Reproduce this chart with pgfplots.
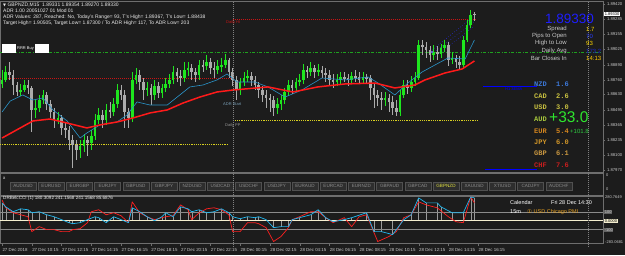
\documentclass[border=0pt]{standalone}
\usepackage{pgfplots}
\pgfplotsset{compat=1.18}
\usepackage{pgfplotstable}
\usepackage{fontspec}
\setmainfont{Liberation Sans}
\newfontfamily\monofont{Liberation Mono}
\newfontfamily\symfont{DejaVu Sans}
\newcommand\fs[1]{\fontsize{#1}{#1}\selectfont}
\definecolor{bg}{HTML}{1C1C1C}
\definecolor{framec}{HTML}{6E6E6E}
\definecolor{tickc}{HTML}{C8C8C8}
\definecolor{bullc}{HTML}{1EE61E}
\definecolor{bearc}{HTML}{ABABAB}
\definecolor{mared}{HTML}{FF1A1A}
\definecolor{mablue}{HTML}{2A93C8}
\definecolor{ddgreen}{HTML}{1FA01F}
\definecolor{ydot}{HTML}{D8D020}
\definecolor{rdot}{HTML}{C81414}
\definecolor{chanblue}{HTML}{2A2AD0}
\definecolor{cciblue}{HTML}{22B8F0}
\definecolor{ccired}{HTML}{FF2020}
\definecolor{histc}{HTML}{9A9A9A}
\definecolor{zeroc}{HTML}{F5EFD0}
\definecolor{btnfill}{HTML}{2E2E2E}
\definecolor{btnline}{HTML}{505050}
\definecolor{btntext}{HTML}{8C8C8C}

\pgfplotstableread{
i o h l c
0 1.88722 1.88844 1.88687 1.88757
1 1.88757 1.88879 1.88739 1.88826
2 1.88826 1.88914 1.88757 1.88800
3 1.88800 1.88844 1.88626 1.88713
4 1.88713 1.88739 1.88617 1.88652
5 1.88652 1.88722 1.88617 1.88669
6 1.88669 1.88757 1.88652 1.88713
7 1.88713 1.88757 1.88634 1.88687
8 1.88687 1.88704 1.88303 1.88495
9 1.88495 1.88582 1.88425 1.88512
10 1.88512 1.88626 1.88477 1.88582
11 1.88582 1.88669 1.88547 1.88626
12 1.88626 1.88652 1.88495 1.88547
13 1.88547 1.88582 1.88425 1.88477
14 1.88477 1.88512 1.88338 1.88407
15 1.88407 1.88477 1.88372 1.88425
16 1.88425 1.88451 1.88276 1.88338
17 1.88338 1.88390 1.88250 1.88320
18 1.88320 1.88355 1.88146 1.88233
19 1.88233 1.88276 1.87988 1.88189
20 1.88189 1.88233 1.88058 1.88146
21 1.88146 1.88233 1.88076 1.88180
22 1.88180 1.88285 1.88128 1.88233
23 1.88233 1.88268 1.88093 1.88207
24 1.88207 1.88320 1.88146 1.88268
25 1.88268 1.88460 1.88233 1.88407
26 1.88407 1.88512 1.88372 1.88451
27 1.88451 1.88495 1.88338 1.88407
28 1.88407 1.88547 1.88364 1.88495
29 1.88495 1.88565 1.88425 1.88477
30 1.88477 1.88600 1.88442 1.88547
31 1.88547 1.88722 1.88512 1.88669
32 1.88669 1.88713 1.88582 1.88626
33 1.88626 1.88669 1.88338 1.88477
34 1.88477 1.88512 1.88338 1.88425
35 1.88425 1.88826 1.88390 1.88757
36 1.88757 1.88861 1.88722 1.88800
37 1.88800 1.88844 1.88669 1.88739
38 1.88739 1.88774 1.88582 1.88669
39 1.88669 1.88739 1.88617 1.88687
40 1.88687 1.88722 1.88538 1.88626
41 1.88626 1.88757 1.88582 1.88704
42 1.88704 1.88739 1.88600 1.88643
43 1.88643 1.88722 1.88600 1.88687
44 1.88687 1.88774 1.88652 1.88722
45 1.88722 1.88809 1.88687 1.88757
46 1.88757 1.88879 1.88722 1.88826
47 1.88826 1.88861 1.88739 1.88792
48 1.88792 1.88844 1.88704 1.88774
49 1.88774 1.88914 1.88739 1.88844
50 1.88844 1.88914 1.88792 1.88861
51 1.88861 1.88896 1.88757 1.88826
52 1.88826 1.88861 1.88739 1.88800
53 1.88800 1.88931 1.88757 1.88888
54 1.88888 1.88931 1.88826 1.88879
55 1.88879 1.88975 1.88844 1.88914
56 1.88914 1.88949 1.88809 1.88861
57 1.88861 1.88914 1.88774 1.88844
58 1.88844 1.88931 1.88809 1.88879
59 1.88879 1.88949 1.88826 1.88888
60 1.88888 1.88984 1.88861 1.88931
61 1.88931 1.88949 1.88774 1.88826
62 1.88826 1.88861 1.88704 1.88757
63 1.88757 1.88792 1.88582 1.88669
64 1.88669 1.88774 1.88626 1.88739
65 1.88739 1.88826 1.88704 1.88774
66 1.88774 1.88844 1.88739 1.88792
67 1.88792 1.88826 1.88704 1.88757
68 1.88757 1.88792 1.88669 1.88713
69 1.88713 1.88739 1.88600 1.88669
70 1.88669 1.88704 1.88565 1.88626
71 1.88626 1.88669 1.88512 1.88600
72 1.88600 1.88634 1.88477 1.88582
73 1.88582 1.88617 1.88442 1.88512
74 1.88512 1.88600 1.88460 1.88547
75 1.88547 1.88626 1.88495 1.88582
76 1.88582 1.88687 1.88547 1.88652
77 1.88652 1.88757 1.88617 1.88713
78 1.88713 1.88757 1.88634 1.88687
79 1.88687 1.88774 1.88652 1.88739
80 1.88739 1.88809 1.88704 1.88757
81 1.88757 1.88896 1.88722 1.88844
82 1.88844 1.88879 1.88774 1.88826
83 1.88826 1.88914 1.88792 1.88861
84 1.88861 1.88888 1.88774 1.88826
85 1.88826 1.88896 1.88792 1.88844
86 1.88844 1.88879 1.88774 1.88818
87 1.88818 1.88861 1.88739 1.88800
88 1.88800 1.88844 1.88704 1.88757
89 1.88757 1.88809 1.88687 1.88739
90 1.88739 1.88809 1.88704 1.88757
91 1.88757 1.88826 1.88722 1.88783
92 1.88783 1.88826 1.88739 1.88774
93 1.88774 1.88809 1.88704 1.88757
94 1.88757 1.88826 1.88722 1.88792
95 1.88792 1.88844 1.88739 1.88783
96 1.88783 1.88826 1.88722 1.88757
97 1.88757 1.88826 1.88722 1.88783
98 1.88783 1.88809 1.88722 1.88774
99 1.88774 1.88800 1.88582 1.88687
100 1.88687 1.88722 1.88512 1.88626
101 1.88626 1.88669 1.88530 1.88600
102 1.88600 1.88652 1.88495 1.88582
103 1.88582 1.88652 1.88530 1.88600
104 1.88600 1.88634 1.88477 1.88565
105 1.88565 1.88617 1.88451 1.88512
106 1.88512 1.88582 1.88442 1.88477
107 1.88477 1.88669 1.88442 1.88626
108 1.88626 1.88757 1.88600 1.88713
109 1.88713 1.88757 1.88634 1.88687
110 1.88687 1.88792 1.88652 1.88739
111 1.88739 1.88826 1.88704 1.88774
112 1.88774 1.89106 1.88757 1.89062
113 1.89062 1.89106 1.88975 1.89045
114 1.89045 1.89088 1.88949 1.89019
115 1.89019 1.89053 1.88914 1.88975
116 1.88975 1.89062 1.88931 1.89001
117 1.89001 1.89053 1.88931 1.88984
118 1.88984 1.89071 1.88949 1.89036
119 1.89036 1.89106 1.89001 1.89062
120 1.89062 1.89088 1.88879 1.88931
121 1.88931 1.89001 1.88896 1.88949
122 1.88949 1.88975 1.88861 1.88914
123 1.88914 1.88966 1.88844 1.88888
124 1.88888 1.89141 1.88861 1.89106
125 1.89106 1.89280 1.89088 1.89237
126 1.89237 1.89368 1.89211 1.89324
127 1.89331 1.89354 1.89270 1.89330
}\candles

\pgfplotstableread{
i v
0 1.88250
8.3 1.88399
12.9 1.88416
17.5 1.88381
22.8 1.88338
26.3 1.88364
30.9 1.88390
35.2 1.88425
39.8 1.88469
44.4 1.88495
48.7 1.88556
53.2 1.88608
57.8 1.88652
62.1 1.88669
71.5 1.88696
78.2 1.88652
84.9 1.88696
92.2 1.88722
100.3 1.88730
105.6 1.88687
111.0 1.88713
113.7 1.88757
119.1 1.88818
123.7 1.88853
127 1.88923
}\mared

\pgfplotstableread{
i v
0 1.88477
2.2 1.88573
5.6 1.88626
8.3 1.88582
11.0 1.88600
13.7 1.88495
17.5 1.88399
21.0 1.88250
22.8 1.88294
26.3 1.88364
30.9 1.88390
33.6 1.88451
36.3 1.88565
39.8 1.88538
44.4 1.88538
47.8 1.88626
50.5 1.88696
54.0 1.88713
57.8 1.88757
60.5 1.88809
63.2 1.88739
68.0 1.88739
71.5 1.88696
76.1 1.88608
80.6 1.88669
86.0 1.88774
92.2 1.88757
98.4 1.88783
101.1 1.88730
105.6 1.88626
109.1 1.88730
112.9 1.88826
116.4 1.88888
119.9 1.88949
124.5 1.88940
127 1.89106
}\mablue

\pgfplotstableread{
i v
0 207
1 161
3 104
5 138
7 127
8 92
10 104
12 69
14 46
16 12
18 -23
19 -35
21 -23
23 12
25 46
26 35
28 -23
30 46
32 12
34 -23
35 150
37 104
39 46
41 0
43 46
44 92
46 46
48 161
50 138
51 104
53 127
55 92
57 104
59 138
61 92
62 46
64 23
66 46
68 35
69 46
71 12
73 -81
75 -69
77 -69
78 12
80 35
83 69
85 127
87 35
89 -12
92 12
94 35
98 92
100 -127
102 -127
105 -161
108 12
110 69
112 265
114 207
117 207
118 161
121 92
124 92
126 276
127 265
}\ccicyan

\pgfplotstableread{
i v
0 241
1 150
3 92
5 69
7 46
8 -127
10 -69
12 -104
14 -104
16 -127
18 -127
19 -104
21 -92
23 -23
24 104
26 127
28 69
30 92
32 58
34 -23
35 219
37 92
39 46
41 12
43 35
44 46
46 58
48 184
50 127
51 12
53 92
55 138
57 150
59 127
61 69
62 -127
64 -127
66 -23
68 -23
69 -35
71 -81
73 -242
75 -184
77 -81
78 12
80 46
83 104
85 104
87 35
89 -23
92 35
94 -69
96 46
98 69
101 -242
104 -184
106 -127
108 35
110 69
112 219
114 184
117 150
120 46
122 -12
124 -23
126 276
127 207
}\ccired

\begin{document}
\begin{tikzpicture}[x=1pt,y=1pt]
\fill[bg] (0,0) rectangle (625,255);

% ---------------- main price panel ----------------
\begin{axis}[at={(0pt,83pt)}, anchor=south west, scale only axis,
  width=603pt, height=171pt,
  xmin=-0.54, xmax=161.56, ymin=1.879534, ymax=1.894463,
  axis line style={draw=framec, line width=0.6pt},
  xtick=\empty,
  ytick={1.89420,1.89285,1.89155,1.89025,1.88890,1.88760,1.88630,1.88495,1.88365,1.88235,1.88100,1.87970},
  yticklabels={1.89420,1.89285,1.89155,1.89025,1.88890,1.88760,1.88630,1.88495,1.88365,1.88235,1.88100,1.87970},
  ytick pos=right, yticklabel pos=right, tick align=outside, major tick length=2pt,
  tick style={draw=framec},
  yticklabel style={font=\fs{4.2}, text=tickc, xshift=-1.5pt},
  ]
% level lines
\addplot[rdot, line width=0.6pt, dash pattern=on 1pt off 1pt] coordinates {(-0.54,1.88774) (62,1.88774)};
\addplot[rdot, line width=0.6pt, dash pattern=on 1pt off 1pt] coordinates {(62,1.89289) (127.5,1.89289)};
\addplot[ydot, line width=0.6pt, dash pattern=on 1.2pt off 1pt] coordinates {(-0.54,1.88198) (60.5,1.88198)};
\addplot[ydot, line width=0.6pt, dash pattern=on 1.2pt off 1pt] coordinates {(62,1.88407) (127.7,1.88407)};
\addplot[ddgreen, line width=0.8pt, dash pattern=on 3pt off 1.5pt on 1pt off 1.5pt] coordinates {(-0.54,1.89001) (160.7,1.89001)};
\addplot[blue, line width=1pt] coordinates {(129.3,1.88704) (143.8,1.88704)};
\addplot[blue, line width=1pt] coordinates {(129.8,1.87971) (143.8,1.87971)};
% channel
\addplot[chanblue, line width=0.6pt, dotted] coordinates {(115.6,1.89019) (126.3,1.89298)};
\addplot[chanblue, line width=0.6pt, dotted] coordinates {(115.6,1.88984) (126.8,1.89263)};
\addplot[chanblue, line width=0.6pt, dotted] coordinates {(116.0,1.88949) (127.0,1.89228)};
% wicks
\addplot[draw=none, mark=none, forget plot,
  restrict expr to domain={\thisrow{c}-\thisrow{o}}{0:1},
  error bars/.cd, y dir=both, y explicit, error mark=none,
  error bar style={draw=bullc, solid, line width=0.55pt}]
  table[x=i, y expr=(\thisrow{h}+\thisrow{l})/2, y error expr=(\thisrow{h}-\thisrow{l})/2] {\candles};
\addplot[draw=none, mark=none, forget plot,
  restrict expr to domain={\thisrow{c}-\thisrow{o}}{-1:0},
  error bars/.cd, y dir=both, y explicit, error mark=none,
  error bar style={draw=bearc, solid, line width=0.55pt}]
  table[x=i, y expr=(\thisrow{h}+\thisrow{l})/2, y error expr=(\thisrow{h}-\thisrow{l})/2] {\candles};
% bodies
\addplot[draw=none, mark=none, forget plot,
  restrict expr to domain={\thisrow{c}-\thisrow{o}}{0:1},
  error bars/.cd, y dir=both, y explicit, error mark=none,
  error bar style={draw=bullc, solid, line width=2.6pt}]
  table[x=i, y expr=(\thisrow{o}+\thisrow{c})/2, y error expr={max(abs(\thisrow{c}-\thisrow{o})/2,0.00003)}] {\candles};
\addplot[draw=none, mark=none, forget plot,
  restrict expr to domain={\thisrow{c}-\thisrow{o}}{-1:0},
  error bars/.cd, y dir=both, y explicit, error mark=none,
  error bar style={draw=bearc, solid, line width=2.6pt}]
  table[x=i, y expr=(\thisrow{o}+\thisrow{c})/2, y error expr={max(abs(\thisrow{c}-\thisrow{o})/2,0.00003)}] {\candles};
% moving averages
\addplot[mablue, line width=0.6pt, line join=round] table[x=i, y=v] {\mablue};
\addplot[mared, line width=1.5pt, line join=round] table[x=i, y=v] {\mared};
\addplot[only marks, mark=*, mark size=1.1pt, fill=white, draw=chanblue] coordinates {(115.6,1.89001)};
\end{axis}

% ---------------- CCI panel ----------------
\begin{axis}[at={(0pt,11.5pt)}, anchor=south west, scale only axis,
  width=603pt, height=47pt,
  xmin=-0.54, xmax=161.56, ymin=-265, ymax=281,
  axis line style={draw=framec, line width=0.6pt},
  ytick=\empty,
  xtick={0,8,...,128},
  xticklabels={27 Dec 2018, 27 Dec 10:15, 27 Dec 12:15, 27 Dec 14:15, 27 Dec 16:15, 27 Dec 18:15, 27 Dec 20:15, 27 Dec 22:15, 28 Dec 00:15, 28 Dec 02:15, 28 Dec 04:15, 28 Dec 06:15, 28 Dec 08:15, 28 Dec 10:15, 28 Dec 12:15, 28 Dec 14:15, 28 Dec 16:15},
  xtick pos=bottom, tick align=outside, major tick length=2pt,
  tick style={draw=framec},
  xticklabel style={font=\fs{4.4}, text=tickc, anchor=north west, xshift=-3pt, yshift=1pt},
  ]
\addplot[histc, line width=0.4pt, ycomb] table[x=i, y=v] {\ccicyan};
\addplot[framec!80, line width=0.5pt] coordinates {(-0.54,100) (161.56,100)};
\addplot[framec!80, line width=0.5pt] coordinates {(-0.54,-100) (161.56,-100)};
\addplot[zeroc, line width=0.8pt] coordinates {(-0.54,0) (161.56,0)};
\addplot[ccired, line width=0.7pt, line join=round] table[x=i, y=v] {\ccired};
\addplot[cciblue, line width=0.7pt, line join=round] table[x=i, y=v] {\ccicyan};
\end{axis}

% ---------------- button panel ----------------
\draw[framec, line width=0.6pt] (0,60) rectangle (603,82);
\node[anchor=west, text=white, font=\fs{4.5}, inner sep=0pt] at (3,77) {x};
\foreach \n [count=\k from 0] in {AUDUSD,EURUSD,EURGBP,EURJPY,GBPUSD,GBPJPY,NZDUSD,USDCAD,USDCHF,USDJPY,EURAUD,EURCAD,EURNZD,GBPAUD,GBPCAD,GBPNZD,XAUUSD,XTIUSD,CADJPY,AUDCHF}{
  \pgfmathsetmacro\bx{10+28.2*\k}
  \draw[fill=btnfill, draw=btnline, line width=0.4pt] (\bx,65) rectangle ++(26,7.5);
  \ifnum\k=15
    \node[text={rgb,255:red,224;green,224;blue,64}, font=\fs{4.6}, inner sep=0pt] at (\bx+13,68.75) {\n};
  \else
    \node[text=btntext, font=\fs{4.6}, inner sep=0pt] at (\bx+13,68.75) {\n};
  \fi
}
\node[anchor=west, text=tickc, font=\fs{4}, inner sep=0pt] at (606,80) {0};
\node[anchor=west, text=tickc, font=\fs{4}, inner sep=0pt] at (606,66) {0};

% vertical separators
\draw[gray, line width=0.5pt, dash pattern=on 1pt off 1pt] (233,8) -- (233,254);
\draw[gray, line width=0.5pt, dash pattern=on 1pt off 1pt] (588,8) -- (588,254);

% ---------------- header texts ----------------
\begin{scope}[every node/.style={anchor=west, inner sep=0pt, text={rgb,255:red,235;green,235;blue,235}, font=\fs{5}}]
\node at (3,250) {{\symfont\fs{3.8}▼} GBPNZD,M15\ \ 1.89331 1.89354 1.89270 1.89330};
\node at (3,244) {ADR 1.00 20051027 01 Mod 01};
\node at (3,238) {ADR Values: 287, Reached: No, Today's Range= 93, T's High= 1.89367, T's Low= 1.88438};
\node at (3,232) {Target High= 1.90505, Target Low= 1.87300 / To ADR High= 117, To ADR Low= 203};
\node[font=\fs{4.6}] at (3,57) {DRBelcCCI (1) 180.3092 241.1568 241.1568 85.6876};
\end{scope}
\fill[white] (2,202) rectangle (16,211);
\fill[white] (35,202) rectangle (49,211);
\node[anchor=west, inner sep=0pt, text=white, font=\fs{4}] at (17,206.5) {RRR Buy};

\node[anchor=west, inner sep=0pt, text=rdot, font=\fs{4}] at (226,233) {Daily Hi};
\node[anchor=west, inner sep=0pt, text={rgb,255:red,122;green,160;blue,184}, font=\fs{4}] at (223,151) {ADR Start};
\node[anchor=west, inner sep=0pt, text={rgb,255:red,150;green,150;blue,150}, font=\fs{4}] at (225,130) {Daily PP};
\node[anchor=west, inner sep=0pt, text=blue, font=\fs{4}] at (505,166) {H1 3EMA};

% current price tag
\node[anchor=west, fill=white, text=black, font=\fs{4}, inner sep=0.6pt] at (604,241) {1.89330};

% ---------------- info panel ----------------
\node[anchor=east, inner sep=0pt, text={rgb,255:red,30;green,30;blue,255}, font=\fs{13.5}] at (594,236) {1.89330};
\begin{scope}[every node/.style={anchor=east, inner sep=0pt, text={rgb,255:red,200;green,200;blue,200}, font=\fs{6}}]
\node at (567,226) {Spread};
\node at (567,219) {Pips to Open};
\node at (567,212) {High to Low};
\node at (567,204) {Daily Avg};
\node at (567,197) {Bar Closes In};
\end{scope}
\begin{scope}[every node/.style={anchor=west, inner sep=0pt, font=\fs{6}}]
\node[text={rgb,255:red,255;green,215;blue,0}] at (586,226) {1.7};
\node[text={rgb,255:red,40;green,60;blue,255}] at (586,219) {70};
\node[text={rgb,255:red,255;green,215;blue,0}] at (586,212) {93};
\node[text={rgb,255:red,30;green,40;blue,200}] at (586,204) {173.2};
\node[text={rgb,255:red,255;green,200;blue,0}] at (586,197) {14:13};
\end{scope}

% currency strength
\begin{scope}[every node/.style={anchor=west, inner sep=0pt, font=\monofont\bfseries\fs{7}}]
\node[text={rgb,255:red,60;green,120;blue,216}] at (534,171) {NZD};
\node[text={rgb,255:red,60;green,120;blue,216}] at (556,171) {1.6};
\node[text={rgb,255:red,200;green,192;blue,64}] at (534,159) {CAD};
\node[text={rgb,255:red,200;green,192;blue,64}] at (556,159) {2.6};
\node[text={rgb,255:red,200;green,192;blue,64}] at (534,148) {USD};
\node[text={rgb,255:red,200;green,192;blue,64}] at (556,148) {3.0};
\node[text={rgb,255:red,168;green,200;blue,60}] at (534,136) {AUD};
\node[text={rgb,255:red,210;green,132;blue,30}] at (534,124) {EUR};
\node[text={rgb,255:red,210;green,132;blue,30}] at (556,124) {5.4};
\node[text={rgb,255:red,210;green,150;blue,40}] at (534,113) {JPY};
\node[text={rgb,255:red,210;green,150;blue,40}] at (556,113) {6.0};
\node[text={rgb,255:red,200;green,150;blue,64}] at (534,102) {GBP};
\node[text={rgb,255:red,200;green,150;blue,64}] at (556,102) {6.1};
\node[text={rgb,255:red,200;green,30;blue,30}] at (534,90) {CHF};
\node[text={rgb,255:red,200;green,30;blue,30}] at (556,90) {7.6};
\end{scope}
\node[anchor=west, inner sep=0pt, text={rgb,255:red,46;green,230;blue,46}, font=\fs{15.5}] at (549,137.5) {+33.0};
\node[anchor=west, inner sep=0pt, text={rgb,255:red,46;green,204;blue,64}, font=\fs{6}] at (570,124) {+101.8};

% ---------------- CCI right labels & calendar ----------------
\node[anchor=west, inner sep=0pt, text=tickc, font=\fs{4}] at (605,58) {280.7649};
\node[anchor=west, fill={rgb,255:red,100;green,100;blue,100}, text=tickc, font=\fs{4}, inner sep=0.6pt] at (604,43) {100};
\node[anchor=west, fill=zeroc, text=black, font=\fs{4}, inner sep=0.6pt] at (604,34) {0.0000};
\node[anchor=west, fill={rgb,255:red,100;green,100;blue,100}, text=tickc, font=\fs{4}, inner sep=0.6pt] at (604,25) {-100};
\node[anchor=west, inner sep=0pt, text=tickc, font=\fs{4}] at (605,13) {-283.0681};
\node[anchor=west, inner sep=0pt, text=white, font=\fs{5.5}] at (510,52) {Calendar};
\node[anchor=west, inner sep=0pt, text=white, font=\fs{5.5}] at (551,52) {Fri 28 Dec 14:30};
\node[anchor=west, inner sep=0pt, text=white, font=\fs{5.5}] at (510,43) {15m};
\node[anchor=west, inner sep=0pt, text={rgb,255:red,230;green,160;blue,32}, font=\fs{5.5}] at (527,43) {{\symfont ①} USD Chicago PMI};

\pgfresetboundingbox
\path[use as bounding box] (0,0) rectangle (625,255);
\end{tikzpicture}
\end{document}
